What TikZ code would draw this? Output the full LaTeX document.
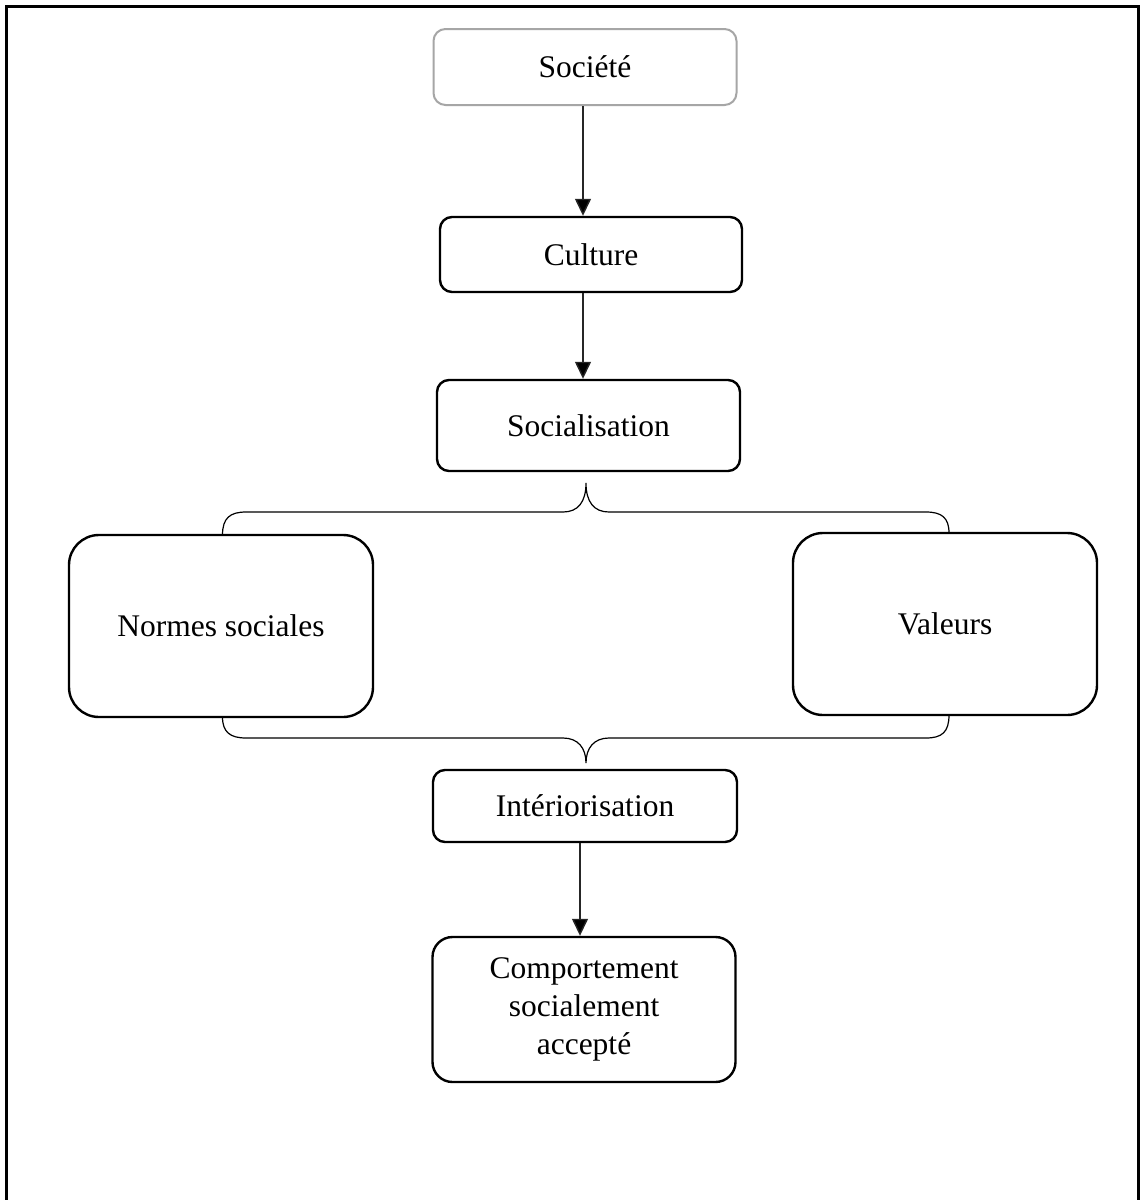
\documentclass[tikz,border=0pt]{standalone}
\usepackage{fontspec}
\setmainfont{Liberation Serif}
\usetikzlibrary{arrows.meta}
\definecolor{lg}{HTML}{A6A6A6}
\begin{document}
\begin{tikzpicture}[x=1pt,y=-1pt,
  box/.style={draw=black, line width=2.4pt, rounded corners=12pt, align=center,
    font=\fontsize{31.5}{38}\selectfont, inner sep=0pt},
  bigbox/.style={box, rounded corners=30pt},
  arr/.style={line width=1.4pt, draw=black!85, -{Triangle[length=17pt,width=16pt,fill=black]}},
  brace/.style={line width=1.2pt}]
\useasboundingbox (0,0) rectangle (1140,1200);
\fill[white] (0,0) rectangle (1140,1200);
\draw[line width=2.7pt] (6.5,1200) -- (6.5,6.5) -- (1138.5,6.5) -- (1138.5,1200);

\node[box, draw=lg, line width=2pt, minimum width=303pt, minimum height=76pt] (soc) at (585,67) {Société};
\node[box, minimum width=302pt, minimum height=75pt] (cul) at (591,254.5) {Culture};
\node[box, minimum width=303pt, minimum height=91pt] (socz) at (588.5,425.5) {Socialisation};
\node[bigbox, minimum width=304pt, minimum height=182pt] (norm) at (221,626) {Normes sociales};
\node[bigbox, minimum width=304pt, minimum height=182pt] (val) at (945,624) {Valeurs};
\node[box, minimum width=304pt, minimum height=72pt] (int) at (585,806) {Intériorisation};
\node[box, rounded corners=20pt, minimum width=303pt, minimum height=145pt] (comp) at (584,1009.5) {Comportement\\socialement\\accepté};

\coordinate (ax) at (583,0);
\coordinate (ax2) at (580,0);
\draw[arr] (soc.south -| ax) -- (cul.north -| ax);
\draw[arr] (cul.south -| ax) -- (socz.north -| ax);
\draw[arr] (int.south -| ax2) -- (comp.north -| ax2);

% top brace
\coordinate (tl) at (222.5,535);
\coordinate (tr) at (949,533);
\coordinate (tt) at (586,483);
\draw[brace] (tl) .. controls (222.5,518) and (230,512) .. (246,512) -- (563,512)
  .. controls (578,512) and (586,502) .. (tt)
  .. controls (586,502) and (594,512) .. (609,512) -- (926,512)
  .. controls (942,512) and (949,518) .. (tr);
% bottom brace
\coordinate (bl) at (222.5,717);
\coordinate (br) at (949,715);
\coordinate (bt) at (586,763);
\draw[brace] (bl) .. controls (222.5,732) and (230,738) .. (246,738) -- (563,738)
  .. controls (578,738) and (586,748) .. (bt)
  .. controls (586,748) and (594,738) .. (609,738) -- (926,738)
  .. controls (942,738) and (949,732) .. (br);
\end{tikzpicture}
\end{document}
